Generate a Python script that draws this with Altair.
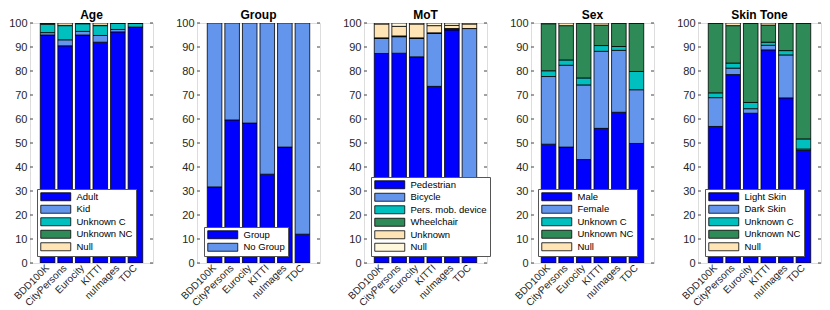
import altair as alt
import pandas as pd

datasets = ["BDD100K", "CityPersons", "Eurocity", "KITTI", "nuImages", "TDC"]

# ---- Age ----
age_cats = ["Adult", "Kid", "Unknown C", "Unknown NC", "Null"]
age_adult = [95.0, 90.5, 95.0, 92.0, 96.3, 98.3]
age_kid = [1.0, 2.5, 1.5, 2.8, 1.0, 0.0]
age_unk_c = [3.5, 5.9, 3.2, 4.1, 2.5, 1.6]
age_unk_nc = [0.3, 0.1, 0.1, 0.1, 0.1, 0.1]
age_null = [0.2, 1.0, 0.2, 1.0, 0.1, 0.0]

# ---- Group ----
group_cats = ["Group", "No Group"]
group_group = [31.7, 59.6, 58.3, 37.0, 48.3, 12.0]
group_nogroup = [68.3, 40.4, 41.7, 63.0, 51.7, 88.0]

# ---- MoT ----
mot_cats = ["Pedestrian", "Bicycle", "Pers. mob. device", "Wheelchair", "Unknown", "Null"]
mot_ped = [87.3, 87.4, 85.9, 73.6, 97.1, 25.0]
mot_bic = [6.3, 6.9, 7.7, 22.2, 0.4, 72.7]
mot_pmd = [0.1, 0.2, 0.1, 0.05, 0.1, 0.0]
mot_wheel = [0.1, 0.1, 0.1, 0.05, 0.1, 0.0]
mot_unknown = [5.8, 4.0, 5.8, 3.0, 1.3, 1.9]
mot_null = [0.4, 1.4, 0.4, 1.1, 1.0, 0.4]

# ---- Sex ----
sex_cats = ["Male", "Female", "Unknown C", "Unknown NC", "Null"]
sex_male = [49.5, 48.3, 43.1, 56.1, 62.8, 49.8]
sex_female = [28.2, 34.1, 31.1, 32.1, 25.8, 22.4]
sex_unk_c = [2.4, 2.2, 2.9, 2.4, 1.6, 7.6]
sex_unk_nc = [19.6, 14.3, 22.8, 8.5, 9.7, 20.2]
sex_null = [0.3, 1.1, 0.1, 0.9, 0.1, 0.0]

# ---- Skin Tone ----
skin_cats = ["Light Skin", "Dark Skin", "Unknown C", "Unknown NC", "Null"]
skin_light = [56.9, 78.5, 62.4, 88.8, 68.8, 46.9]
skin_dark = [12.0, 2.7, 1.9, 1.9, 17.9, 0.6]
skin_unk_c = [2.0, 2.1, 2.6, 1.3, 1.8, 4.2]
skin_unk_nc = [29.0, 15.6, 33.0, 7.1, 11.4, 48.3]
skin_null = [0.1, 1.1, 0.1, 0.9, 0.1, 0.0]

tick_values = list(range(0, 101, 10))

BLUE = "#0000FF"
LBLUE = "#6495ED"
TEAL = "#00BFBF"
GREEN = "#2E8B57"
WHEAT = "#FFE4B5"
CREAM = "#FFF8DC"

W = 123
H = 240
FONT = "Liberation Sans"
RECT = "M-1,-1H6.5V1H-1Z"


def long_df(cats, series):
    rows = []
    for k, (c, vals) in enumerate(zip(cats, series)):
        for d, v in zip(datasets, vals):
            rows.append({"dataset": d, "category": c, "value": v, "order": k})
    return pd.DataFrame(rows)


def y_enc(stack=None):
    kw = {}
    if stack:
        kw["stack"] = stack
    return alt.Y("value:Q",
                 scale=alt.Scale(domain=[0, 100], nice=False),
                 axis=alt.Axis(title=None, values=tick_values, ticks=False, domain=False,
                               grid=False, labelFontSize=11, labelPadding=3,
                               labelColor="#262626", labelFont=FONT),
                 **kw)


def panel(title, cats, series, colors):
    df = long_df(cats, series)
    bars = alt.Chart(df).mark_bar(stroke="black", strokeWidth=0.8, clip=True).encode(
        x=alt.X("dataset:N", sort=datasets,
                scale=alt.Scale(paddingInner=0.17, paddingOuter=0.585),
                axis=alt.Axis(title=None, labelAngle=-45, ticks=False, domain=False,
                              labelFontSize=10, labelPadding=3, labelColor="#262626",
                              labelFont=FONT, labelAlign="right", labelBaseline="middle")),
        y=y_enc("zero"),
        color=alt.Color("category:N", sort=cats,
                        scale=alt.Scale(domain=cats, range=colors),
                        legend=alt.Legend(title=None, orient="bottom-left", offset=7,
                                          symbolType=RECT, symbolSize=64,
                                          symbolStrokeColor="black", symbolStrokeWidth=0.8,
                                          labelOffset=27, labelFontSize=9.5, labelFont=FONT,
                                          labelColor="black", rowPadding=0.5,
                                          padding=3, strokeColor="#555555",
                                          fillColor="white", symbolOpacity=1)),
        order=alt.Order("order:Q", sort="ascending"),
    )
    tdf = pd.DataFrame({"value": tick_values})
    lt = alt.Chart(tdf).mark_rule(color="#444444", strokeWidth=1).encode(
        y=y_enc(), x=alt.value(0), x2=alt.value(3))
    rt = alt.Chart(tdf).mark_rule(color="#444444", strokeWidth=1).encode(
        y=y_enc(), x=alt.value(W - 3), x2=alt.value(W))
    return alt.layer(bars, lt, rt).properties(
        width=W, height=H,
        title=alt.TitleParams(title, fontSize=12, fontWeight="bold", font=FONT,
                              offset=-5, color="black"))


p1 = panel("Age", age_cats, [age_adult, age_kid, age_unk_c, age_unk_nc, age_null],
           [BLUE, LBLUE, TEAL, GREEN, WHEAT])
p2 = panel("Group", group_cats, [group_group, group_nogroup], [BLUE, LBLUE])
p3 = panel("MoT", mot_cats, [mot_ped, mot_bic, mot_pmd, mot_wheel, mot_unknown, mot_null],
           [BLUE, LBLUE, TEAL, GREEN, WHEAT, CREAM])
p4 = panel("Sex", sex_cats, [sex_male, sex_female, sex_unk_c, sex_unk_nc, sex_null],
           [BLUE, LBLUE, TEAL, GREEN, WHEAT])
p5 = panel("Skin Tone", skin_cats, [skin_light, skin_dark, skin_unk_c, skin_unk_nc, skin_null],
           [BLUE, LBLUE, TEAL, GREEN, WHEAT])

chart = alt.hconcat(p1, p2, p3, p4, p5, spacing=44, bounds="flush").resolve_scale(
    color="independent"
).properties(
    padding={"left": 0, "top": 0, "right": 0, "bottom": 0}
).configure_view(stroke="#777777", strokeWidth=1).configure(background="white")

chart.save("out.html", embed_options={"renderer": "svg", "actions": False})
